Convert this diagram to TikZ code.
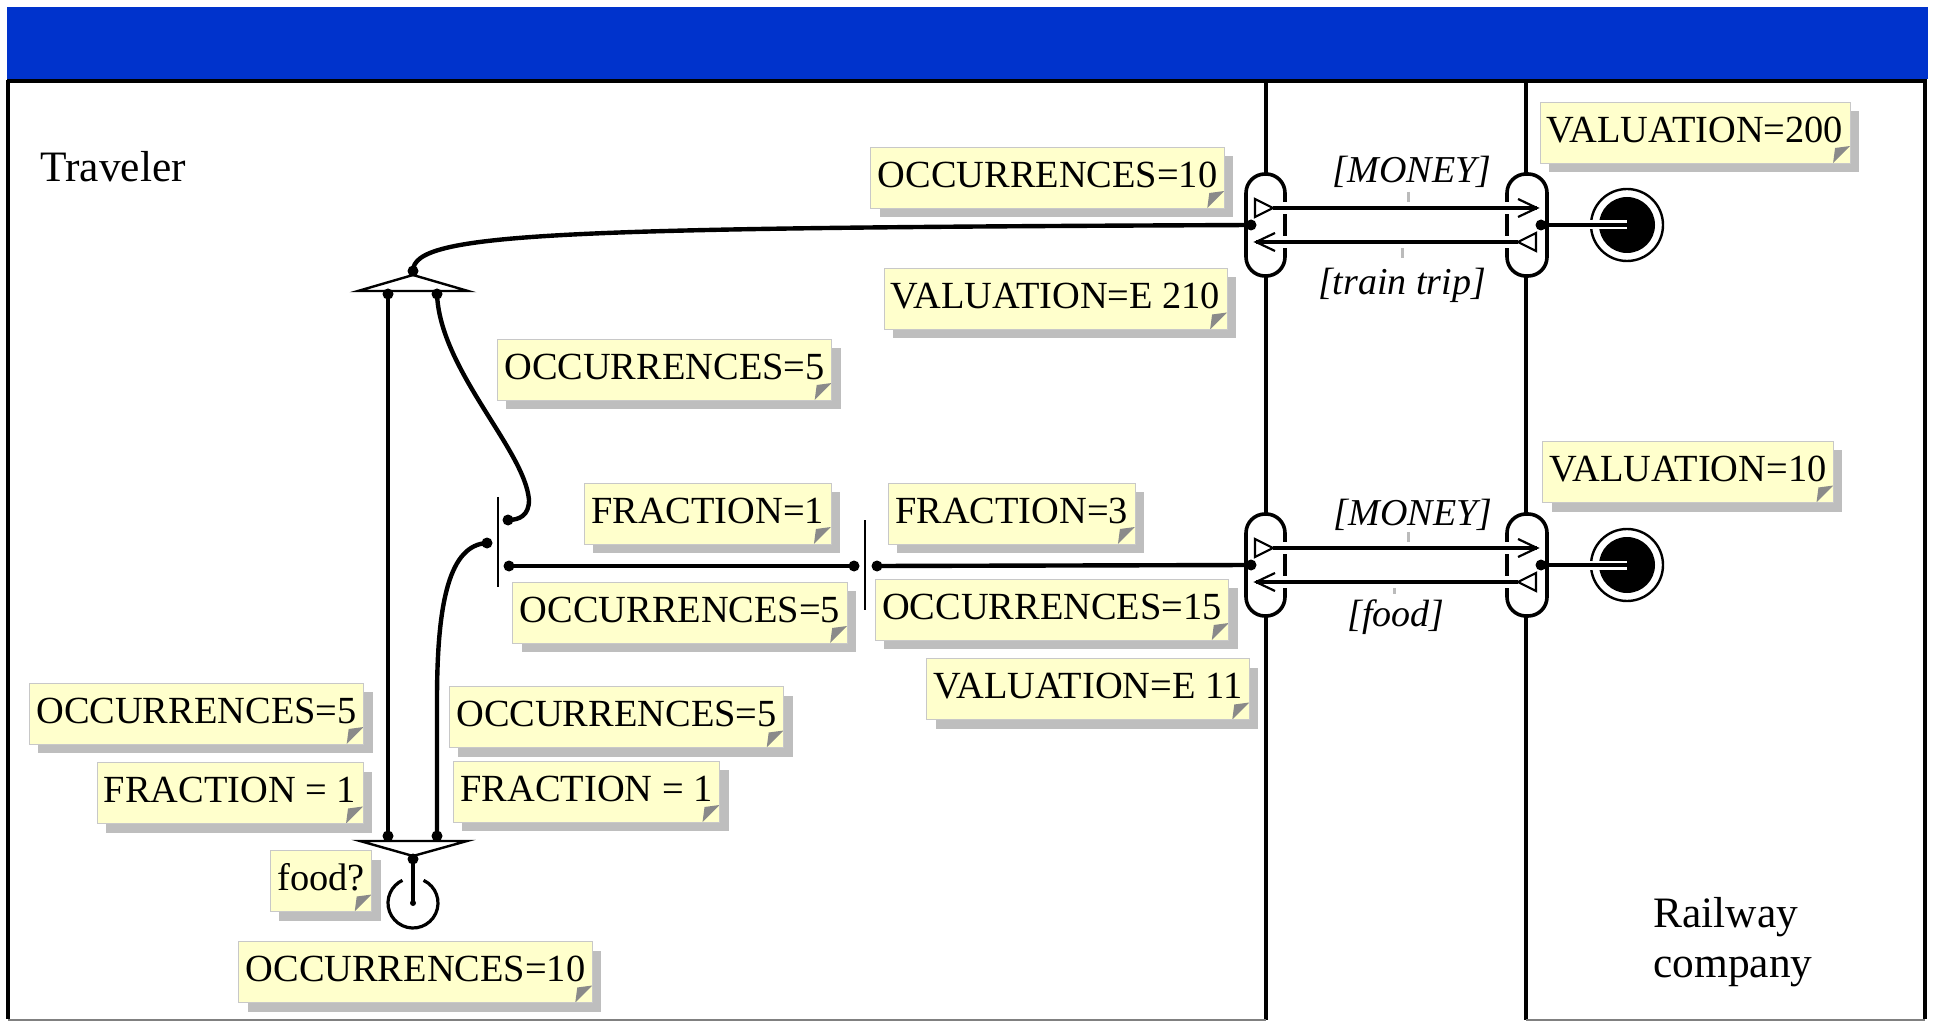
\documentclass[tikz,border=0pt]{standalone}
\usepackage{fontspec}
\setmainfont{Liberation Serif}
\usetikzlibrary{shadows}

\definecolor{bandblue}{HTML}{0033CC}
\definecolor{noteyellow}{HTML}{FFFFCC}
\definecolor{noteedge}{HTML}{C8C8C8}
\definecolor{noteshadow}{HTML}{BEBEBE}
\definecolor{dogear}{HTML}{8A8A8A}
\definecolor{tickgray}{HTML}{BBBBBB}

\tikzset{
  frameline/.style={line width=2pt, black},
  note/.style={draw=noteedge, line width=0.4pt, fill=noteyellow,
    inner xsep=3.5pt, inner ysep=0pt, minimum height=30.5pt,
    text height=12.7pt, text depth=3pt,
    font=\fontsize{19.2}{22}\selectfont,
    drop shadow={shadow xshift=4.5pt, shadow yshift=-4.5pt, fill=noteshadow, opacity=1},
    path picture={\fill[dogear]
      ([yshift=8.5pt]path picture bounding box.south east) --
      ([xshift=-8.5pt]path picture bounding box.south east) --
      ([xshift=-7.5pt,yshift=7.5pt]path picture bounding box.south east) -- cycle;}},
  actorname/.style={inner sep=0pt, font=\fontsize{21.7}{26}\selectfont},
  exlabel/.style={inner sep=0pt, font=\fontsize{19}{22}\selectfont\itshape},
  flow/.style={line width=2.2pt},
  joinbar/.style={line width=1pt},
  gate/.style={draw=black, fill=white, line width=1.2pt, line join=miter},
  iface/.style={draw=black, fill=white, line width=1.8pt, rounded corners=9.5pt},
  halo/.style={white, line width=6pt},
  vexch/.style={black, line width=1.8pt},
  portmark/.style={draw=black, line width=1.1pt, line join=miter},
  midtick/.style={tickgray, line width=1.5pt},
}

\begin{document}
\begin{tikzpicture}[x=0.5pt,y=-0.5pt]
\useasboundingbox (0,0) rectangle (1933,1021);
\fill[white] (0,0) rectangle (1933,1021);

% title band
\fill[bandblue] (7,7) rectangle (1928,79);

% actor frames and lane borders
\draw[frameline] (7,81) -- (1927,81);
\draw[frameline] (8,80) -- (8,1019);
\draw[frameline] (1925,80) -- (1925,1019);
\draw[frameline] (1266,80) -- (1266,1020);
\draw[frameline] (1526,80) -- (1526,1020);
\draw[gray, line width=1pt] (8,1019.5) -- (1266,1019.5) (1526,1019.5) -- (1925,1019.5);

% actor names
\node[actorname, anchor=base west] (traveler) at (40,182) {Traveler};
\node[actorname, anchor=base west] (railway) at (1653,927) {Railway};
\node[actorname, anchor=base west] (company) at (1653,977) {company};

% annotation notes
\node[note] (nOccTop) at (1047.5,177.5) {OCCURRENCES=10};
\node[note] (nValE210) at (1055.5,299) {VALUATION=E 210};
\node[note] (nVal200) at (1695,132.5) {VALUATION=200};
\node[note] (nVal10) at (1688,472) {VALUATION=10};
\node[note] (nOccUp) at (664.5,369.5) {OCCURRENCES=5};
\node[note] (nFrac1) at (707.5,513.5) {FRACTION=1};
\node[note] (nFrac3) at (1011.5,513.5) {FRACTION=3};
\node[note] (nOccMid) at (680,612.5) {OCCURRENCES=5};
\node[note] (nOcc15) at (1052,609.5) {OCCURRENCES=15};
\node[note] (nValE11) at (1088,689) {VALUATION=E 11};
\node[note] (nOccL) at (196.5,713.5) {OCCURRENCES=5};
\node[note] (nFracL) at (230,793) {FRACTION = 1};
\node[note] (nOccR) at (616.5,717) {OCCURRENCES=5};
\node[note] (nFracR) at (586.5,791.5) {FRACTION = 1};
\node[note] (nFood) at (321,881) {food?};
\node[note] (nOccBot) at (415.5,972) {OCCURRENCES=10};

% connection points
\coordinate (forkTop) at (413,271);
\coordinate (forkTopL) at (388,294);
\coordinate (forkTopR) at (437,294);
\coordinate (forkBotL) at (388,836);
\coordinate (forkBotR) at (437,836);
\coordinate (forkBot) at (413,859);
\coordinate (startC) at (413,903);
\coordinate (barIn1) at (508,520);
\coordinate (barIn2) at (487,543);
\coordinate (barOut) at (509,566);
\coordinate (splitIn) at (854,566);
\coordinate (splitOut) at (877,566);
\coordinate (ifTL) at (1251,225);
\coordinate (ifBL) at (1251,565);
\coordinate (ifTR) at (1541,225);
\coordinate (ifBR) at (1541,565);
\coordinate (endT) at (1627,225);
\coordinate (endB) at (1627,565);

% AND fork / join gates
\draw[gate] (358,291) -- (413,275) -- (468,291) -- cycle;
\draw[gate] (360,841) -- (413,856) -- (467,841) -- cycle;

% fraction bars
\draw[joinbar] (498,497) -- (498,587);
\draw[joinbar] (865,520) -- (865,610);

% dependency paths of the traveler
\draw[flow] (forkTop) .. controls (413,232) and (560,228) .. (ifTL);
\draw[flow] (forkTopL) -- (forkBotL);
\draw[flow] (forkTopR) .. controls (440,370) and (525,450) .. (529,500)
            .. controls (529,515) and (520,520) .. (barIn1);
\draw[flow] (forkBotR) -- (437,700) .. controls (437,600) and (450,545) .. (barIn2);
\draw[flow] (barOut) -- (splitIn);
\draw[flow] (forkBot) -- (startC);

% start stimulus
\draw[line width=1.6pt] ([shift={(-65:25)}]startC) arc[start angle=-65, end angle=245, radius=25];
\fill (startC) circle[radius=3];

% value interfaces with their ports and value exchanges
\foreach \dy/\nm in {0/T, 340/B} {
  \draw[iface] (1246,174+\dy) rectangle (1285,276+\dy);
  \draw[iface] (1507,174+\dy) rectangle (1547,276+\dy);
  \coordinate (outL\nm) at (1273,208+\dy);
  \coordinate (inR\nm) at (1537,208+\dy);
  \coordinate (outR\nm) at (1518,242+\dy);
  \coordinate (inL\nm) at (1256,242+\dy);
}
\draw[midtick] (1408,192) -- (1408,208);
\draw[midtick] (1402,242) -- (1402,258);
\draw[midtick] (1408,532) -- (1408,548);
\draw[midtick] (1394,582) -- (1394,594);
\foreach \nm in {T, B} {
  \draw[halo] (outL\nm) -- (inR\nm);
  \draw[halo] (outR\nm) -- (inL\nm);
  \draw[vexch] (outL\nm) -- (inR\nm);
  \draw[vexch] (outR\nm) -- (inL\nm);
  \draw[portmark, fill=white] ([shift={(-18,-9)}]outL\nm) -- (outL\nm) -- ([shift={(-18,9)}]outL\nm) -- cycle;
  \draw[portmark] ([shift={(-19,-9)}]inR\nm) -- (inR\nm) -- ([shift={(-19,9)}]inR\nm);
  \draw[portmark, fill=white] ([shift={(18,-9)}]outR\nm) -- (outR\nm) -- ([shift={(18,9)}]outR\nm) -- cycle;
  \draw[portmark] ([shift={(19,-9)}]inL\nm) -- (inL\nm) -- ([shift={(19,9)}]inL\nm);
}
\draw[flow] (splitOut) -- (ifBL);

% exchange labels
\node[exlabel, anchor=base] (lblMoneyT) at (1412,183) {[MONEY]};
\node[exlabel, anchor=base] (lblTrip) at (1402,295) {[train trip]};
\node[exlabel, anchor=base] (lblMoneyB) at (1413,525) {[MONEY]};
\node[exlabel, anchor=base] (lblFood) at (1396,626) {[food]};

% end stimuli of the railway company
\foreach \e/\f in {endT/ifTR, endB/ifBR} {
  \draw[line width=1.2pt, fill=white] (\e) circle[radius=36];
  \fill (\e) circle[radius=28];
  \draw[white, line width=4.5pt] (\e) -- ++(-45,0);
  \draw[flow] (\f) -- (\e);
}

% connection dots
\foreach \p in {forkTop, forkTopL, forkTopR, forkBotL, forkBotR, forkBot,
                barIn1, barIn2, barOut, splitIn, splitOut, ifTL, ifBL, ifTR, ifBR}
  \fill (\p) circle[radius=5.5];
\end{tikzpicture}
\end{document}
